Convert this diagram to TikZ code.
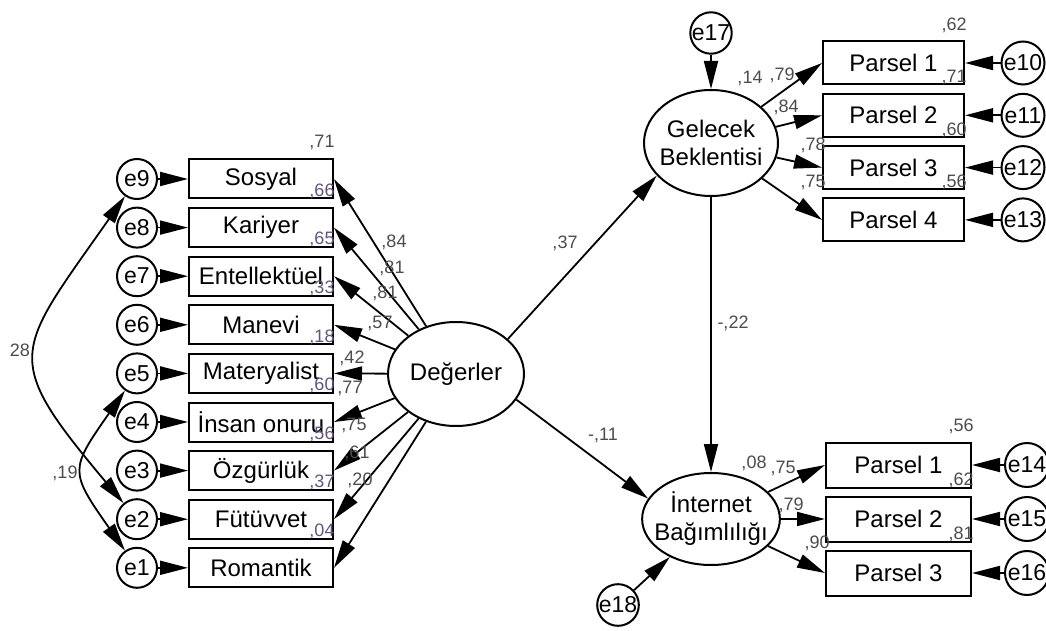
\documentclass[tikz,border=0pt]{standalone}
\usepackage{fontspec}
\setmainfont{Liberation Sans}
\usepackage{tikz}
\usetikzlibrary{positioning}
\usetikzlibrary{arrows.meta}
\usetikzlibrary{shapes.geometric}

\newcommand{\varfont}{\fontsize{24}{28}\selectfont}
\newcommand{\errfont}{\fontsize{23}{26}\selectfont}
\newcommand{\estfont}{\fontsize{18}{20}\selectfont}
\definecolor{estgray}{gray}{0.3}
\definecolor{rsqpurple}{RGB}{100,85,125}

\tikzset{
  ind/.style={draw, line width=2pt, minimum width=144pt, minimum height=39pt, inner sep=0pt, font=\varfont},
  fac/.style={draw, ellipse, line width=2pt, inner sep=0pt, align=center, font=\varfont},
  err/.style={draw, circle, line width=2pt, minimum size=40pt, inner sep=0pt, font=\errfont},
  reg/.style={-{Triangle[length=28pt,width=14pt]}, line width=1.8pt},
  cov/.style={{Triangle[length=28pt,width=14pt]}-{Triangle[length=28pt,width=14pt]}, line width=1.8pt},
  est/.style={font=\estfont, text=estgray, inner sep=0pt},
  rsq/.style={est, text=rsqpurple}
}

\begin{document}
\begin{tikzpicture}[x=1pt,y=1pt,on grid]
    \useasboundingbox (0,0) rectangle (1046,630);

    % values (left column)
    \node[ind] (sos)                         at (261,451) {Sosyal};
    \node[ind] (kar) [below=48.6pt of sos] {Kariyer};
    \node[ind] (ent) [below=48.6pt of kar] {Entellektüel};
    \node[ind] (man) [below=48.6pt of ent] {Manevi};
    \node[ind] (mat) [below=48.6pt of man] {Materyalist};
    \node[ind] (ins) [below=48.6pt of mat] {İnsan onuru};
    \node[ind] (ozg) [below=48.6pt of ins] {Özgürlük};
    \node[ind] (fut) [below=48.6pt of ozg] {Fütüvvet};
    \node[ind] (rom) [below=48.6pt of fut] {Romantik};

    \node[err] (e9) [left=124pt of sos] {e9};
    \node[err] (e8) [left=124pt of kar] {e8};
    \node[err] (e7) [left=124pt of ent] {e7};
    \node[err] (e6) [left=124pt of man] {e6};
    \node[err] (e5) [left=124pt of mat] {e5};
    \node[err] (e4) [left=124pt of ins] {e4};
    \node[err] (e3) [left=124pt of ozg] {e3};
    \node[err] (e2) [left=124pt of fut] {e2};
    \node[err] (e1) [left=124pt of rom] {e1};

    % latent variables
    \node[fac, minimum width=136pt, minimum height=104pt] (deg) at (456,256) {Değerler};
    \node[fac, minimum width=134pt, minimum height=106pt, inner xsep=-4pt] (gel) at (711,487) {Gelecek\\Beklentisi};
    \node[fac, minimum width=131pt, minimum height=92pt, inner xsep=-8pt] (int) [below=376pt of gel] {İnternet\\Bağımlılığı};
    \node[err] (e17) [above=110pt of gel] {e17};
    \node[err] (e18) at (618,25) {e18};

    % parcels
    \node[ind, minimum width=141pt, minimum height=43pt] (p1) at (893.5,567) {Parsel 1};
    \node[ind, minimum width=141pt, minimum height=43pt] (p2) [below=52.3pt of p1] {Parsel 2};
    \node[ind, minimum width=141pt, minimum height=43pt] (p3) [below=52.3pt of p2] {Parsel 3};
    \node[ind, minimum width=141pt, minimum height=43pt] (p4) [below=52.3pt of p3] {Parsel 4};
    \node[err, minimum size=43pt] (e10) [right=129.5pt of p1] {e10};
    \node[err, minimum size=43pt] (e11) [right=129.5pt of p2] {e11};
    \node[err, minimum size=43pt] (e12) [right=129.5pt of p3] {e12};
    \node[err, minimum size=43pt] (e13) [right=129.5pt of p4] {e13};

    \node[ind, minimum width=145pt, minimum height=45pt] (q1) at (898.5,165) {Parsel 1};
    \node[ind, minimum width=145pt, minimum height=45pt] (q2) [below=54pt of q1] {Parsel 2};
    \node[ind, minimum width=145pt, minimum height=45pt] (q3) [below=54pt of q2] {Parsel 3};
    \node[err, minimum size=44pt] (e14) [right=128.5pt of q1] {e14};
    \node[err, minimum size=44pt] (e15) [right=128.5pt of q2] {e15};
    \node[err, minimum size=44pt] (e16) [right=128.5pt of q3] {e16};

    % paths
    \path[reg] (e9) edge (sos)  (e8) edge (kar)  (e7) edge (ent)
               (e6) edge (man)  (e5) edge (mat)  (e4) edge (ins)
               (e3) edge (ozg)  (e2) edge (fut)  (e1) edge (rom);
    \path[reg] (deg) edge (sos.east)  edge (kar.east)  edge (ent.east)
                     edge (man.east)  edge (mat.east)  edge (ins.east)
                     edge (ozg.east)  edge (fut.east)  edge (rom.east);
    \draw[reg] (deg.34) -- (gel.211);
    \draw[reg] (deg.337) -- (int.162);
    \draw[reg] (gel) -- (int);
    \draw[reg] (e17) -- (gel);
    \draw[reg] (e18) -- (int);
    \path[reg] (gel) edge (p1.west)  edge (p2.west)  edge (p3.west)  edge (p4.west);
    \path[reg] (int) edge (q1.west)  edge (q2.west)  edge (q3.west);
    \path[reg] (e10) edge (p1)  (e11) edge (p2)  (e12) edge (p3)  (e13) edge (p4)
               (e14) edge (q1)  (e15) edge (q2)  (e16) edge (q3);

    % covariances
    \draw[cov] (e9) to[out=235, in=130, looseness=1.6] (e2);
    \draw[cov] (e5) to[out=235, in=125, looseness=1.55] (e1);
    \node[est] (c92) at (20,280) {28};
    \node[est] (c51) at (65,157) {,19};

    % estimates
    \node[est] (l1) at (394,388) {,84};
    \node[est] (l2) at (392,362) {,81};
    \node[est] (l3) at (385,337) {,81};
    \node[est] (l4) at (380,307) {,57};
    \node[est] (l5) at (352,272) {,42};
    \node[est] (l6) at (350,242) {,77};
    \node[est] (l7) at (354,205) {,75};
    \node[est] (l8) at (357,177) {,61};
    \node[est] (l9) at (360,150) {,20};

    \node[est] (r1) at ([shift={(-12,16)}]sos.north east) {,71};
    \node[rsq] (r2) at ([shift={(-12,16)}]kar.north east) {,66};
    \node[rsq] (r3) at ([shift={(-12,16)}]ent.north east) {,65};
    \node[rsq] (r4) at ([shift={(-12,16)}]man.north east) {,33};
    \node[rsq] (r5) at ([shift={(-12,16)}]mat.north east) {,18};
    \node[rsq] (r6) at ([shift={(-12,16)}]ins.north east) {,60};
    \node[rsq] (r7) at ([shift={(-12,16)}]ozg.north east) {,56};
    \node[rsq] (r8) at ([shift={(-12,16)}]fut.north east) {,37};
    \node[rsq] (r9) at ([shift={(-12,16)}]rom.north east) {,04};

    \node[est] (b1) at (565,387) {,37};
    \node[est] (b2) at (603,195) {-,11};
    \node[est] (b3) at (733,307) {-,22};
    \node[est] (rg) at (750,552) {,14};
    \node[est] (ri) at (754,167) {,08};

    \node[est] (g1) at (782,555) {,79};
    \node[est] (g2) at (786,523) {,84};
    \node[est] (g3) at (813,485) {,78};
    \node[est] (g4) at (813,448) {,75};
    \node[est] (rp1) at ([shift={(-11,15)}]p1.north east) {,62};
    \node[est] (rp2) at ([shift={(-11,15)}]p2.north east) {,71};
    \node[est] (rp3) at ([shift={(-11,15)}]p3.north east) {,60};
    \node[est] (rp4) at ([shift={(-11,15)}]p4.north east) {,56};

    \node[est] (i1) at (783,162) {,75};
    \node[est] (i2) at (791,125) {,79};
    \node[est] (i3) at (817,87) {,90};
    \node[est] (rq1) at ([shift={(-11,15)}]q1.north east) {,56};
    \node[est] (rq2) at ([shift={(-11,15)}]q2.north east) {,62};
    \node[est] (rq3) at ([shift={(-11,15)}]q3.north east) {,81};
\end{tikzpicture}
\end{document}
